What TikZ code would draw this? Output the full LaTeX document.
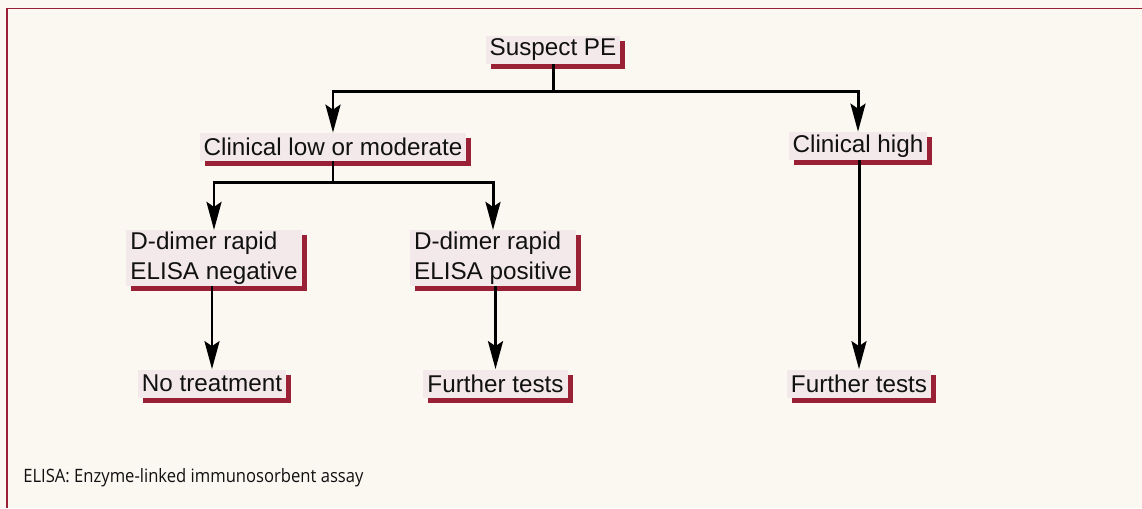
\documentclass[tikz,border=0pt]{standalone}
\usepackage{fontspec}
\setmainfont{Liberation Sans}
\newfontfamily\notefont[FakeStretch=0.9]{Open Sans}
\usetikzlibrary{positioning,arrows.meta,shadows}
\definecolor{paper}{HTML}{FBF8F1}
\definecolor{frameRed}{HTML}{9A2036}
\definecolor{boxFill}{HTML}{F3E9EB}
\definecolor{inkText}{HTML}{111111}

\begin{document}
\begin{tikzpicture}[
  every node/.style={text=inkText},
  box/.style={draw=none, fill=boxFill, align=left, inner xsep=0.08cm, inner ysep=0.03cm,
              minimum height=0.56cm, font=\fontsize{13.8pt}{17pt}\selectfont,
              general shadow={fill=frameRed, shadow xshift=0.1cm, shadow yshift=-0.1cm}},
  flow/.style={-{Stealth[length=5.6mm,width=3mm,inset=1mm]}, line width=1.7pt, draw=black},
  stem/.style={line width=1.7pt, draw=black},
  note/.style={font=\notefont\fontsize{10.5pt}{12pt}\selectfont, text=inkText, anchor=west, inner sep=0pt},
]
% ---------------- CANVAS (1px = 0.02cm) ----------------
\fill[paper] (0,0) rectangle (22.84,-10.16);
\useasboundingbox (0,0) rectangle (22.84,-10.16);
\draw[frameRed, line width=1.1pt] (0.14,-10.16) -- (0.14,-0.17) -- (22.84,-0.17);

% ---------------- NODES (absolute grid, cm) ----------------
\node[box] (SPE) at (11.06,-0.99) {Suspect PE};
\node[box] (CLOW) at (6.66,-2.94) {Clinical low or moderate};
\node[box] (CHIGH) at (17.16,-2.92) {Clinical high};

\node[box] (DNEG) at (4.28,-5.16) {D-dimer rapid\\ELISA negative};
\node[box] (DPOS) at (9.86,-5.16) {D-dimer rapid\\ELISA positive};

\node[box] (NOTR) at (4.24,-7.67) {No treatment};
\node[box] (FTMID) at (9.91,-7.67) {Further tests};
\node[box] (FTRIGHT) at (17.18,-7.67) {Further tests};

\node[note] (FOOT) at (0.46,-9.56) {ELISA: Enzyme-linked immunosorbent assay};

% ---------------- EDGES ----------------
\draw[stem] (SPE.south) -- ++(0,-0.56) coordinate (SPEbar);
\draw[flow] (SPEbar) -| (CLOW.north);
\draw[flow] (SPEbar) -| (CHIGH.north);
\draw[stem] (CLOW.south) -- ++(0,-0.42) coordinate (CLOWbar);
\draw[flow] (CLOWbar) -| (DNEG.north);
\draw[flow] (CLOWbar) -| (DPOS.north);
% children hang straight below their parents
\draw[flow] (NOTR.north |- DNEG.south) -- (NOTR.north);
\draw[flow] (FTMID.north |- DPOS.south) -- (FTMID.north);
\draw[flow] (FTRIGHT.north |- CHIGH.south) -- (FTRIGHT.north);
\end{tikzpicture}
\end{document}
